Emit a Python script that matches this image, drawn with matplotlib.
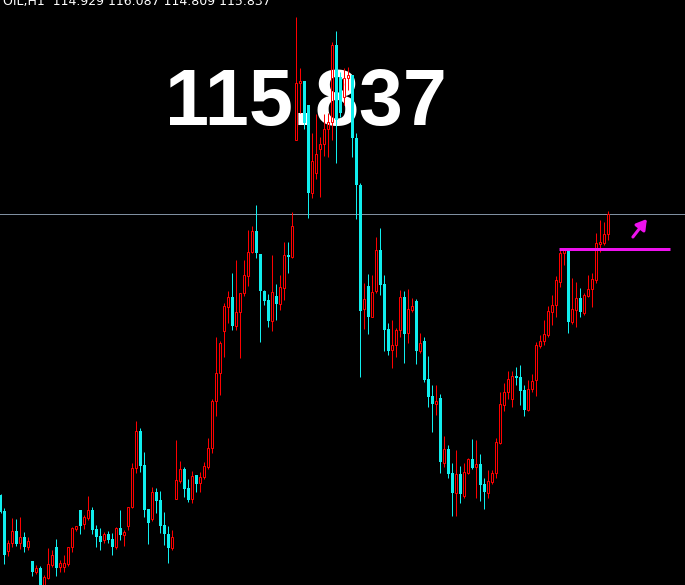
import numpy as np
import matplotlib
matplotlib.use('Agg')
import matplotlib.pyplot as plt
from matplotlib.patches import Rectangle

# OIL H1 candles, oldest first
opens = [104.60, 103.96, 102.36, 102.68, 103.16, 102.68, 102.92, 102.52, 101.96, 101.52,
         101.68, 100.88, 101.28, 101.80, 102.52, 101.72, 101.72, 101.84, 102.52, 103.24,
         104.00, 103.44, 103.68, 104.00, 103.24, 102.96, 102.80, 103.04, 102.84, 102.52,
         103.28, 103.00, 103.36, 104.12, 105.68, 107.16, 105.80, 104.04, 103.64, 104.72,
         104.40, 103.40, 103.04, 102.48, 104.44, 105.16, 105.64, 104.88, 104.44, 105.40,
         105.08, 105.32, 105.72, 106.48, 108.36, 109.48, 111.16, 112.12, 112.52, 111.36,
         111.92, 112.68, 113.36, 114.32, 115.16, 114.24, 112.76, 112.40, 111.56, 112.56,
         112.24, 112.88, 114.20, 114.12, 118.80, 121.08, 121.16, 120.20, 116.68, 117.48,
         118.44, 118.64, 119.24, 119.52, 122.60, 121.32, 120.52, 121.28, 121.40, 118.88,
         117.00, 112.04, 112.96, 111.72, 112.76, 114.40, 113.04, 111.24, 110.40, 110.60,
         111.20, 112.52, 111.08, 112.00, 112.36, 110.36, 110.76, 109.24, 108.56, 108.24,
         108.48, 105.88, 106.44, 105.48, 104.68, 105.44, 104.56, 105.48, 106.04, 105.72,
         105.84, 105.04, 104.68, 105.12, 105.48, 106.68, 108.20, 108.72, 108.44, 109.36,
         109.32, 108.80, 108.00, 108.84, 109.20, 110.56, 110.76, 111.00, 111.92, 112.20,
         113.12, 114.28, 114.40, 111.52, 112.00, 112.48, 111.88, 112.56, 112.84, 113.20,
         114.64, 114.68, 115.04]
highs = [104.64, 104.08, 102.80, 103.68, 103.64, 103.72, 103.12, 102.92, 101.96, 101.80,
         101.76, 101.40, 102.48, 102.40, 102.84, 102.00, 102.20, 102.52, 103.32, 103.36,
         104.00, 103.80, 104.56, 104.12, 103.40, 103.28, 103.12, 103.16, 103.08, 103.32,
         104.00, 103.20, 104.12, 105.88, 107.56, 107.28, 106.32, 104.04, 104.92, 104.88,
         104.76, 103.92, 103.36, 103.20, 106.80, 105.96, 105.72, 105.24, 105.56, 105.40,
         105.52, 105.92, 106.88, 108.44, 110.92, 110.76, 112.28, 112.76, 113.48, 114.00,
         112.68, 114.00, 115.20, 115.36, 116.20, 114.24, 112.80, 112.64, 114.20, 113.04,
         113.40, 114.72, 114.72, 115.92, 123.72, 121.68, 121.16, 120.20, 119.08, 119.84,
         118.92, 119.84, 119.88, 122.72, 123.16, 121.52, 121.68, 121.72, 121.40, 119.08,
         117.08, 113.08, 113.44, 113.40, 114.92, 115.28, 113.40, 111.48, 111.60, 111.28,
         112.80, 112.76, 112.84, 112.48, 112.44, 111.08, 110.92, 110.16, 109.00, 109.00,
         108.64, 106.96, 106.60, 105.88, 106.40, 105.76, 105.88, 106.08, 106.84, 106.80,
         106.24, 105.28, 105.60, 105.60, 106.88, 108.72, 109.08, 109.56, 109.56, 109.72,
         109.80, 109.00, 109.20, 109.44, 110.72, 111.00, 111.60, 112.16, 112.60, 113.36,
         114.40, 114.40, 114.40, 113.28, 113.12, 112.88, 112.68, 113.40, 113.48, 115.08,
         115.60, 115.52, 115.96]
lows = [103.88, 101.84, 102.16, 102.52, 102.56, 102.44, 102.32, 102.40, 101.36, 101.44,
        100.80, 100.72, 101.24, 101.72, 101.36, 101.52, 101.52, 101.76, 102.32, 103.16,
        103.04, 103.24, 103.60, 103.04, 102.52, 102.40, 102.68, 102.68, 102.20, 102.44,
        102.80, 102.56, 103.20, 104.08, 105.48, 105.52, 103.72, 102.64, 103.56, 103.88,
        103.08, 102.60, 101.88, 102.40, 104.44, 105.08, 104.52, 104.32, 104.28, 104.72,
        104.72, 105.24, 105.64, 106.28, 107.76, 108.60, 110.12, 111.48, 111.20, 111.20,
        110.08, 112.56, 112.96, 114.28, 114.08, 110.72, 112.20, 111.32, 111.16, 111.60,
        112.00, 112.40, 113.48, 114.08, 118.80, 119.88, 119.24, 115.68, 116.48, 117.24,
        116.52, 118.16, 118.12, 118.80, 117.88, 119.72, 120.20, 120.80, 118.12, 115.64,
        109.32, 111.24, 111.04, 111.72, 112.68, 112.60, 110.36, 110.20, 109.68, 110.12,
        110.92, 109.88, 110.68, 111.92, 109.84, 110.28, 109.12, 108.12, 107.12, 107.80,
        105.48, 105.72, 105.28, 103.76, 103.76, 104.28, 104.48, 105.44, 105.64, 104.48,
        104.36, 104.04, 104.48, 105.04, 105.28, 106.64, 107.96, 108.44, 108.12, 109.00,
        108.20, 107.76, 107.96, 108.72, 108.56, 110.48, 110.60, 110.92, 111.40, 111.72,
        112.92, 113.80, 111.08, 111.44, 111.32, 111.72, 111.80, 112.52, 112.12, 113.08,
        114.32, 114.60, 114.80]
closes = [103.92, 102.20, 102.68, 103.16, 102.64, 102.92, 102.52, 102.76, 101.52, 101.68,
          101.00, 101.32, 101.84, 102.20, 101.68, 101.88, 101.88, 102.52, 103.28, 103.36,
          103.36, 103.72, 104.00, 103.20, 102.92, 102.72, 103.04, 102.80, 102.52, 103.28,
          103.00, 103.12, 104.12, 105.68, 107.16, 105.76, 104.00, 103.48, 104.72, 104.36,
          103.36, 103.04, 102.48, 102.92, 105.20, 105.64, 104.84, 104.40, 105.36, 105.04,
          105.32, 105.76, 106.48, 108.36, 109.48, 110.68, 112.16, 112.52, 111.36, 111.92,
          112.68, 113.40, 114.32, 115.16, 114.28, 112.76, 112.36, 111.56, 112.72, 112.24,
          112.92, 114.20, 114.12, 115.36, 121.08, 121.16, 119.48, 116.68, 117.96, 118.24,
          118.64, 119.24, 119.52, 122.60, 119.60, 119.88, 121.28, 121.40, 118.88, 117.00,
          111.96, 112.44, 111.72, 112.72, 114.40, 113.00, 111.20, 110.36, 110.60, 111.20,
          112.52, 111.04, 112.04, 112.16, 110.36, 110.68, 109.20, 108.52, 108.24, 108.36,
          105.92, 106.44, 105.44, 104.68, 105.44, 104.64, 105.52, 106.04, 105.68, 105.84,
          105.00, 104.72, 105.16, 105.48, 106.72, 108.24, 108.72, 109.24, 109.36, 109.28,
          108.76, 108.00, 108.84, 109.16, 110.60, 110.76, 111.04, 111.96, 112.20, 113.20,
          114.28, 114.40, 111.52, 112.04, 112.48, 111.92, 112.60, 112.84, 113.24, 114.68,
          114.72, 115.04, 115.84]

header = 'OIL,H1  114.929 116.087 114.809 115.837'
bid = 115.837
big_label = '115.837'
level = 114.45               # magenta horizontal line
level_bars = (139.6, 167.4)  # bar span of that line
arrow_from = (158.1, 114.92)
arrow_to = (161.6, 115.64)

up_col = '#FF0000'
down_col = '#10EEEE'
pink = '#EE11EE'
px = 0.72  # one pixel in points at dpi 100

fig = plt.figure(figsize=(6.85, 5.85), dpi=100, facecolor='black')
ax = fig.add_axes([0, 0, 1, 1])
ax.set_facecolor('black')
ax.set_xlim(-0.125, 171.125)
ax.set_ylim(101.0, 124.4)
ax.axis('off')

for i in range(len(opens)):
    o, h, l, c = opens[i], highs[i], lows[i], closes[i]
    if c >= o:
        # hollow red bull candle
        ax.vlines(i, c, h, color=up_col, lw=px, zorder=3)
        ax.vlines(i, l, o, color=up_col, lw=px, zorder=3)
        ax.add_patch(Rectangle((i - 0.25, o), 0.5, c - o, facecolor='none',
                               edgecolor=up_col, lw=px, zorder=3))
    else:
        ax.vlines(i, l, h, color=down_col, lw=px, zorder=3)
        ax.add_patch(Rectangle((i - 0.375, c), 0.75, o - c, facecolor=down_col,
                               edgecolor='none', zorder=3))

ax.axhline(bid, color='#7F8FA0', lw=px, zorder=2)
ax.hlines(level, level_bars[0], level_bars[1], color=pink, lw=3 * px, zorder=4)
ax.annotate('', xy=arrow_to, xytext=arrow_from,
            arrowprops=dict(arrowstyle='-|>,head_length=0.5,head_width=0.3',
                            color=pink, lw=2.2, mutation_scale=12,
                            shrinkA=0, shrinkB=0),
            zorder=4)

ax.text(0.447, 1 - 125 / 585, big_label, transform=ax.transAxes, color='white',
        fontsize=57, fontweight='bold', family='Liberation Sans',
        ha='center', va='baseline', zorder=1)
# header sits partly above the top edge, as in the terminal screenshot
ax.text(0.004, 1 - 5 / 585, header, transform=ax.transAxes, color='white',
        fontsize=9, family='DejaVu Sans', ha='left', va='baseline', zorder=5)

fig.savefig('out.png', dpi=100, facecolor='black')
